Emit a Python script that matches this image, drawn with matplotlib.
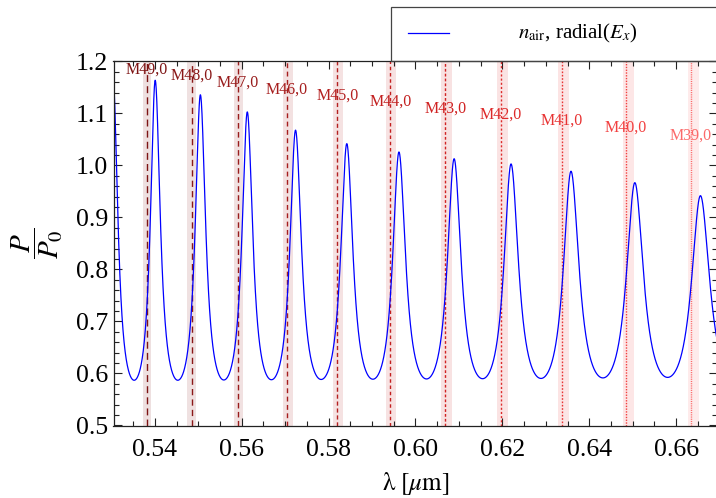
import numpy as np
import matplotlib
matplotlib.use('Agg')
import matplotlib.pyplot as plt
from matplotlib.ticker import MultipleLocator, FormatStrFormatter
from matplotlib.patches import Rectangle
from matplotlib.lines import Line2D

plt.rcParams['font.family'] = ['Liberation Serif', 'DejaVu Serif']
plt.rcParams['mathtext.fontset'] = 'stix'

# resonance peaks of the transmitted power
peak_lam = [0.5304, 0.5401, 0.5505, 0.5613, 0.5724, 0.5842, 0.5962,
            0.6089, 0.6220, 0.6358, 0.6505, 0.6656, 0.6813]
peak_val = [1.168, 1.164, 1.136, 1.103, 1.068, 1.042, 1.026,
            1.013, 1.003, 0.989, 0.967, 0.942, 0.920]
min_val = [0.587, 0.587, 0.587, 0.588, 0.588, 0.589, 0.589,
           0.590, 0.590, 0.591, 0.592, 0.593, 0.594]
finesse = [5.0, 5.0, 5.0, 5.0, 4.8, 4.6, 4.4, 4.2, 4.0, 3.8, 3.5, 3.2, 3.0]

# whispering gallery mode markers
mode_names = ['M49,0', 'M48,0', 'M47,0', 'M46,0', 'M45,0', 'M44,0',
              'M43,0', 'M42,0', 'M41,0', 'M40,0', 'M39,0']
mode_lam = [0.5381, 0.5486, 0.5592, 0.5704, 0.5820, 0.5942,
            0.6069, 0.6197, 0.6337, 0.6484, 0.6634]
band_lo = [0.5372, 0.5475, 0.5582, 0.5694, 0.5810, 0.5932,
           0.6058, 0.6188, 0.6328, 0.6477, 0.6628]
band_hi = [0.5391, 0.5496, 0.5604, 0.5717, 0.5833, 0.5955,
           0.6083, 0.6213, 0.6353, 0.6502, 0.6653]
label_y = [1.184, 1.173, 1.159, 1.145, 1.134, 1.123,
           1.110, 1.098, 1.086, 1.072, 1.057]
mode_colors = ['#7d1414', '#8a1818', '#981c1c', '#a61e1e', '#b42020', '#c21f1f',
               '#d02222', '#dd2a2a', '#e83333', '#f24040', '#fb6a6a']
mode_dash = [(5, 3), (4.5, 3), (4, 2.5), (3.5, 2.5), (3, 2), (2.5, 2),
             (2, 1.5), (1.5, 1.5), (1.2, 1.2), (1, 1), (0.8, 0.8)]

# curve: Airy-type line shape through the read peaks and minima
lam = np.linspace(0.5300, 0.6700, 4000)
idx = np.arange(len(peak_lam))
phase = np.interp(lam, peak_lam, idx)
ypk = np.interp(phase, idx, peak_val)
ymn = np.interp(phase, idx, min_val)
F = np.interp(phase, idx, finesse)
A = 1.0 / (1.0 + F * np.sin(np.pi * phase) ** 2)
Amin = 1.0 / (1.0 + F)
P = ymn + (ypk - ymn) * (A - Amin) / (1 - Amin)

fig = plt.figure(figsize=(7.16, 4.98), dpi=100)
ax = fig.add_axes([113.5 / 716, (498 - 425.5) / 498, (717 - 113.5) / 716, (425.5 - 61.5) / 498])

for lo, hi, c in zip(band_lo, band_hi, mode_colors):
    ax.axvspan(lo, hi, color=c, alpha=0.13, lw=0)
for x, c, d in zip(mode_lam, mode_colors, mode_dash):
    ax.axvline(x, color=c, lw=1.0, dashes=d)

ax.plot(lam, P, color='#0000ff', lw=0.9)

for name, x, y, c in zip(mode_names, mode_lam, label_y, mode_colors):
    ax.text(x, y, name, color=c, fontsize=11.5, ha='center', va='center')

ax.set_xlim(0.5305, 0.6694)
ax.set_ylim(0.5, 1.2)
ax.xaxis.set_major_locator(MultipleLocator(0.02))
ax.xaxis.set_minor_locator(MultipleLocator(0.005))
ax.yaxis.set_major_locator(MultipleLocator(0.1))
ax.yaxis.set_minor_locator(MultipleLocator(0.02))
ax.xaxis.set_major_formatter(FormatStrFormatter('%.2f'))
ax.yaxis.set_major_formatter(FormatStrFormatter('%.1f'))
ax.tick_params(which='both', direction='in', top=True, right=True, color='#222222', width=0.8)
ax.tick_params(which='major', length=6, labelsize=18.5)
ax.tick_params(axis='x', which='major', pad=10)
ax.tick_params(axis='y', which='major', pad=4)
ax.tick_params(which='minor', length=3.5)
for s in ax.spines.values():
    s.set_linewidth(0.9)
    s.set_color('#222222')

ax.set_xlabel(r'$\mathrm{\lambda\ [}\mu\mathrm{m]}$', fontsize=18, labelpad=6)
ax.set_ylabel(r'$\dfrac{P}{P_0}$', fontsize=21, rotation=90, labelpad=8)

# legend box
fig.patches.append(Rectangle((391 / 716, (498 - 61.5) / 498), 330 / 716, 54.5 / 498,
                             transform=fig.transFigure, fill=False,
                             edgecolor='#444444', lw=0.9))
fig.lines.append(Line2D([408 / 716, 449 / 716], [(498 - 33) / 498] * 2,
                        transform=fig.transFigure, color='#0000ff', lw=0.9))
fig.text(578 / 716, (498 - 33) / 498, r'$n_{\mathrm{air}}$, radial($E_x$)',
         fontsize=15, ha='center', va='center')

fig.savefig('out.png', dpi=100)
